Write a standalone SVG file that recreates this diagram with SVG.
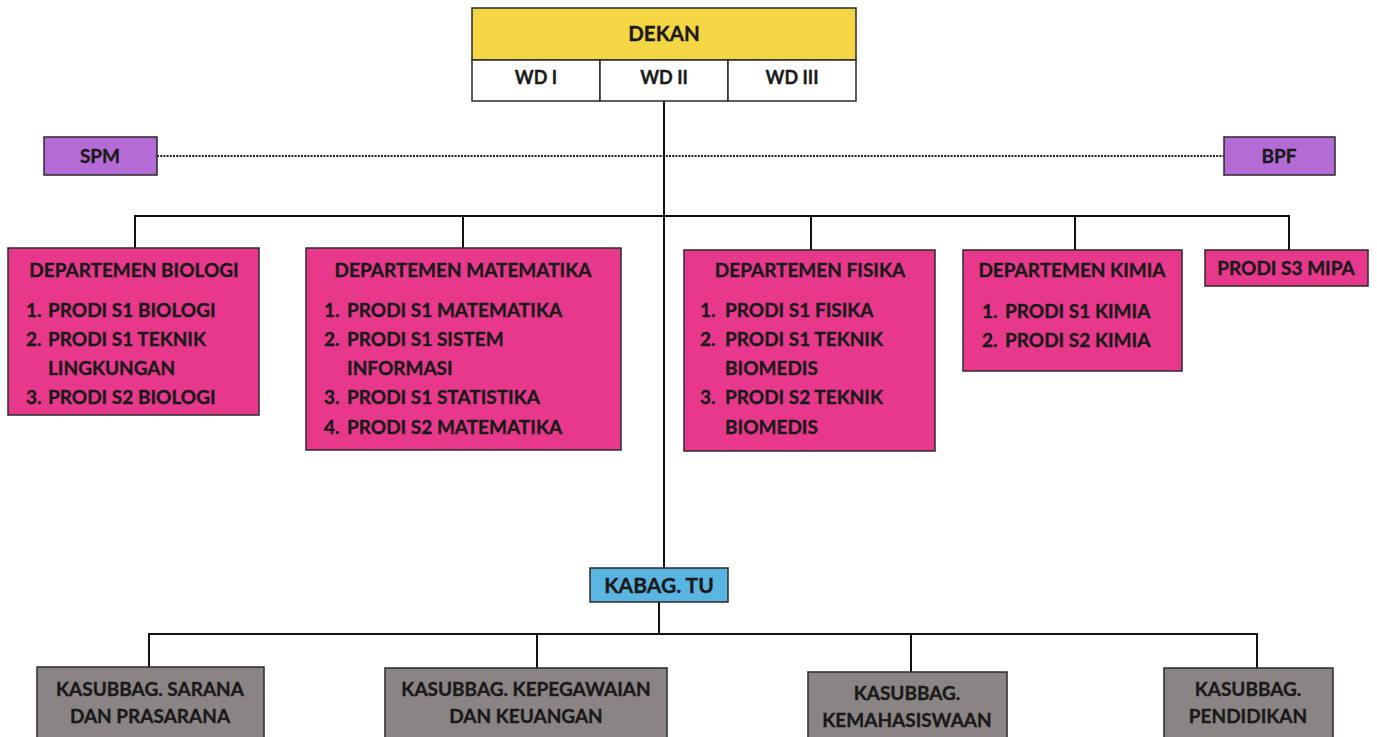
<svg xmlns="http://www.w3.org/2000/svg" width="1377" height="737" viewBox="0 0 1377 737">
<style>
text{font-family:Lato,"Open Sans","Liberation Sans",sans-serif;font-weight:bold;fill:#1a1a1a;stroke:#1a1a1a;stroke-width:0.35}
.t{font-size:19px}
.c{text-anchor:middle}
.box{stroke:#2a2a2a;stroke-width:1.5}
.yel{fill:#F4D543}.wht{fill:#fff}.pur{fill:#B56BD6}.mag{fill:#E8388C}.blu{fill:#5BB5E3}.gry{fill:#8A8484}
.ln{stroke:#111;stroke-width:2;fill:none}
.dot{stroke:#222;stroke-width:2;stroke-dasharray:2 1.2;fill:none}
</style>
<rect width="1377" height="737" fill="#fff"/>
<g id="connectors">
<line class="ln" x1="664" y1="101" x2="664" y2="568"/>
<line class="dot" x1="157" y1="156" x2="1224" y2="156"/>
<polyline class="ln" points="135,248 135,216 1289,216 1289,250"/>
<line class="ln" x1="463" y1="216" x2="463" y2="248"/>
<line class="ln" x1="811" y1="216" x2="811" y2="250"/>
<line class="ln" x1="1075" y1="216" x2="1075" y2="250"/>
<line class="ln" x1="659" y1="602" x2="659" y2="634"/>
<polyline class="ln" points="149,667 149,634 1257,634 1257,668"/>
<line class="ln" x1="537" y1="634" x2="537" y2="668"/>
<line class="ln" x1="911" y1="634" x2="911" y2="672"/>
</g>
<g id="dekan">
<rect class="box yel" x="472" y="8" width="384" height="52"/>
<text class="c" x="664" y="41" font-size="20.5">DEKAN</text>
</g>
<g id="wd1"><rect class="box wht" x="472" y="60" width="128" height="41"/><text class="c" x="536" y="84" font-size="18">WD I</text></g>
<g id="wd2"><rect class="box wht" x="600" y="60" width="128" height="41"/><text class="c" x="664" y="84" font-size="18">WD II</text></g>
<g id="wd3"><rect class="box wht" x="728" y="60" width="128" height="41"/><text class="c" x="792" y="84" font-size="18">WD III</text></g>
<g id="spm"><rect class="box pur" x="44" y="137" width="113" height="38"/><text class="c" x="100" y="163" font-size="19">SPM</text></g>
<g id="bpf"><rect class="box pur" x="1224" y="137" width="111" height="38"/><text class="c" x="1279" y="163" font-size="19">BPF</text></g>
<g id="biologi">
<rect class="box mag" x="8" y="248" width="251" height="167"/>
<text class="t c" x="134" y="277">DEPARTEMEN BIOLOGI</text>
<text class="t" x="26" y="317">1.</text><text class="t" x="48" y="317">PRODI S1 BIOLOGI</text>
<text class="t" x="26" y="346">2.</text><text class="t" x="48" y="346">PRODI S1 TEKNIK</text>
<text class="t" x="48" y="375">LINGKUNGAN</text>
<text class="t" x="26" y="404">3.</text><text class="t" x="48" y="404">PRODI S2 BIOLOGI</text>
</g>
<g id="matematika">
<rect class="box mag" x="306" y="248" width="315" height="202"/>
<text class="t c" x="463" y="277">DEPARTEMEN MATEMATIKA</text>
<text class="t" x="324" y="317">1.</text><text class="t" x="347" y="317">PRODI S1 MATEMATIKA</text>
<text class="t" x="324" y="346">2.</text><text class="t" x="347" y="346">PRODI S1 SISTEM</text>
<text class="t" x="347" y="375">INFORMASI</text>
<text class="t" x="324" y="404">3.</text><text class="t" x="347" y="404">PRODI S1 STATISTIKA</text>
<text class="t" x="324" y="434">4.</text><text class="t" x="347" y="434">PRODI S2 MATEMATIKA</text>
</g>
<g id="fisika">
<rect class="box mag" x="684" y="250" width="251" height="201"/>
<text class="t c" x="810" y="277">DEPARTEMEN FISIKA</text>
<text class="t" x="700" y="317">1.</text><text class="t" x="725" y="317">PRODI S1 FISIKA</text>
<text class="t" x="700" y="346">2.</text><text class="t" x="725" y="346">PRODI S1 TEKNIK</text>
<text class="t" x="725" y="375">BIOMEDIS</text>
<text class="t" x="700" y="404">3.</text><text class="t" x="725" y="404">PRODI S2 TEKNIK</text>
<text class="t" x="725" y="434">BIOMEDIS</text>
</g>
<g id="kimia">
<rect class="box mag" x="963" y="250" width="219" height="121"/>
<text class="t c" x="1072" y="277">DEPARTEMEN KIMIA</text>
<text class="t" x="982" y="318">1.</text><text class="t" x="1005" y="318">PRODI S1 KIMIA</text>
<text class="t" x="982" y="347">2.</text><text class="t" x="1005" y="347">PRODI S2 KIMIA</text>
</g>
<g id="prodi-s3"><rect class="box mag" x="1205" y="250" width="163" height="36"/><text class="t c" x="1286" y="275">PRODI S3 MIPA</text></g>
<g id="kabag-tu"><rect class="box blu" x="590" y="568" width="138" height="34"/><text class="c" x="659" y="593" font-size="21">KABAG. TU</text></g>
<g id="sarana"><rect class="box gry" x="37" y="667" width="227" height="72"/>
<text class="t c" x="150" y="696">KASUBBAG. SARANA</text><text class="t c" x="150" y="723">DAN PRASARANA</text></g>
<g id="kepegawaian"><rect class="box gry" x="385" y="668" width="282" height="72"/>
<text class="t c" x="526" y="696">KASUBBAG. KEPEGAWAIAN</text><text class="t c" x="526" y="723">DAN KEUANGAN</text></g>
<g id="kemahasiswaan"><rect class="box gry" x="808" y="672" width="199" height="68"/>
<text class="t c" x="907" y="700">KASUBBAG.</text><text class="t c" x="907" y="727">KEMAHASISWAAN</text></g>
<g id="pendidikan"><rect class="box gry" x="1164" y="668" width="169" height="72"/>
<text class="t c" x="1248" y="696">KASUBBAG.</text><text class="t c" x="1248" y="723">PENDIDIKAN</text></g>
</svg>
